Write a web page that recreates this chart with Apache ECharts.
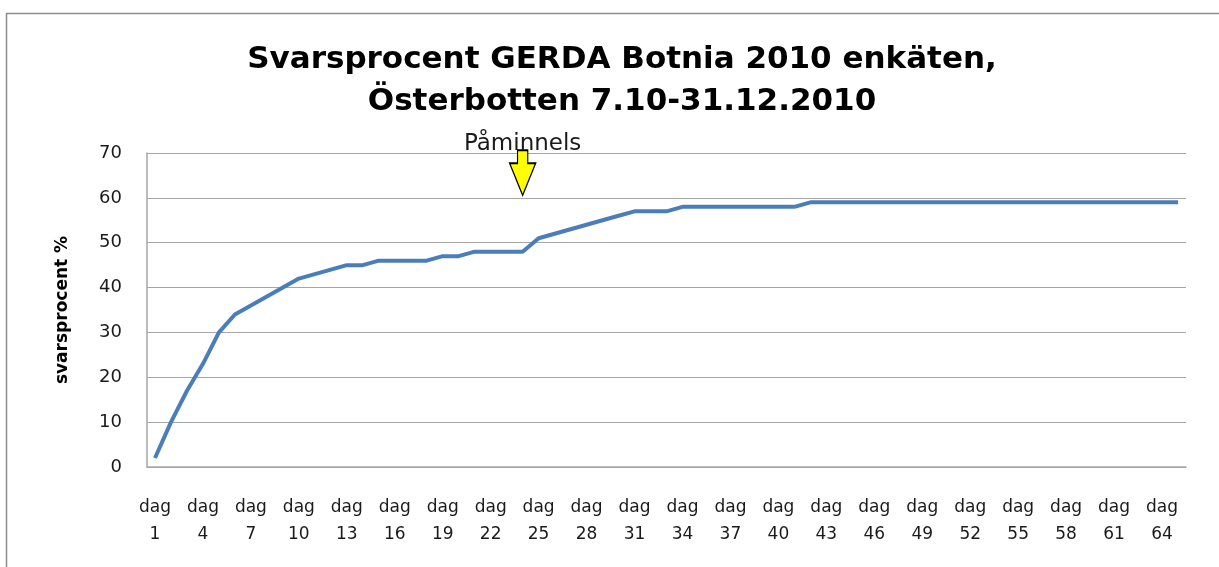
<!DOCTYPE html>
<html>
<head>
<meta charset="utf-8">
<script src="https://cdn.jsdelivr.net/npm/echarts@6/dist/echarts.min.js"></script>
<style>
html,body{margin:0;padding:0;background:#fff;}
#chart{width:1219px;height:567px;}
</style>
</head>
<body>
<div id="chart"></div>
<script>
var titleText = 'Svarsprocent GERDA Botnia 2010 enkäten,\nÖsterbotten 7.10-31.12.2010';
var yAxisName = 'svarsprocent %';
var categories = [
  'dag 1','dag 2','dag 3','dag 4','dag 5','dag 6','dag 7','dag 8','dag 9','dag 10',
  'dag 11','dag 12','dag 13','dag 14','dag 15','dag 16','dag 17','dag 18','dag 19','dag 20',
  'dag 21','dag 22','dag 23','dag 24','dag 25','dag 26','dag 27','dag 28','dag 29','dag 30',
  'dag 31','dag 32','dag 33','dag 34','dag 35','dag 36','dag 37','dag 38','dag 39','dag 40',
  'dag 41','dag 42','dag 43','dag 44','dag 45','dag 46','dag 47','dag 48','dag 49','dag 50',
  'dag 51','dag 52','dag 53','dag 54','dag 55','dag 56','dag 57','dag 58','dag 59','dag 60',
  'dag 61','dag 62','dag 63','dag 64','dag 65'
];
var svarsprocent = [
  2,10,17,23,30,34,36,38,40,42,
  43,44,45,45,46,46,46,46,47,47,
  48,48,48,48,51,52,53,54,55,56,
  57,57,57,58,58,58,58,58,58,58,
  58,59,59,59,59,59,59,59,59,59,
  59,59,59,59,59,59,59,59,59,59,
  59,59,59,59,59
];
var yTicks = [0,10,20,30,40,50,60,70];
var reminderDay = 'dag 24';
var reminderLabel = 'Påminnels';
var reminderArrowValue = 65.6;

var font = 'DejaVu Sans';
var chart = echarts.init(document.getElementById('chart'));
var arrowPath = 'path://M8.5,0 L19.5,0 L19.5,13 L28,13 L14,45 L0,13 L8.5,13 Z';
chart.setOption({
  animation: false,
  backgroundColor: '#fff',
  title: {
    text: titleText,
    left: 617,
    top: 34,
    textAlign: 'center',
    textStyle: { fontFamily: font, fontWeight: 'bold', fontSize: 31, color: '#000', lineHeight: 42 }
  },
  grid: { left: 147, right: 33, top: 153, bottom: 100 },
  xAxis: {
    type: 'category',
    data: categories,
    boundaryGap: true,
    axisLine: { show: true, lineStyle: { color: '#a6a6a6', width: 1.5 } },
    axisTick: { show: false },
    axisLabel: {
      interval: 2,
      margin: 27,
      fontFamily: font, fontSize: 17, color: '#1a1a1a', lineHeight: 27,
      formatter: function (v) { return v.replace(' ', '\n'); }
    }
  },
  yAxis: {
    type: 'value',
    min: yTicks[0],
    max: yTicks[yTicks.length - 1],
    interval: 10,
    name: yAxisName,
    nameLocation: 'middle',
    nameGap: 76,
    nameTextStyle: { fontFamily: font, fontWeight: 'bold', fontSize: 17, color: '#000' },
    axisLine: { show: true, lineStyle: { color: '#a6a6a6', width: 1.5 } },
    axisTick: { show: false },
    splitLine: { show: true, lineStyle: { color: '#a6a6a6', width: 1.2 } },
    axisLabel: { margin: 25, fontFamily: font, fontSize: 18, color: '#1a1a1a' }
  },
  graphic: [
    { type: 'polyline', silent: true, shape: { points: [[6.5, 600], [6.5, 13.5], [1300, 13.5]] },
      style: { stroke: '#8c8c8c', lineWidth: 1.5, fill: null } }
  ],
  series: [{
    type: 'line',
    data: svarsprocent,
    symbol: 'none',
    lineStyle: { color: '#4a7ebb', width: 4 },
    markPoint: {
      silent: true,
      symbol: arrowPath,
      symbolSize: [26, 45],
      symbolOffset: [0, 0],
      itemStyle: { color: '#ffff00', borderColor: '#000', borderWidth: 1.5 },
      label: {
        show: true, position: 'top', distance: -6,
        formatter: reminderLabel,
        fontFamily: font, fontSize: 23, color: '#1a1a1a'
      },
      data: [{ coord: [reminderDay, reminderArrowValue] }]
    }
  }]
});
</script>
</body>
</html>
